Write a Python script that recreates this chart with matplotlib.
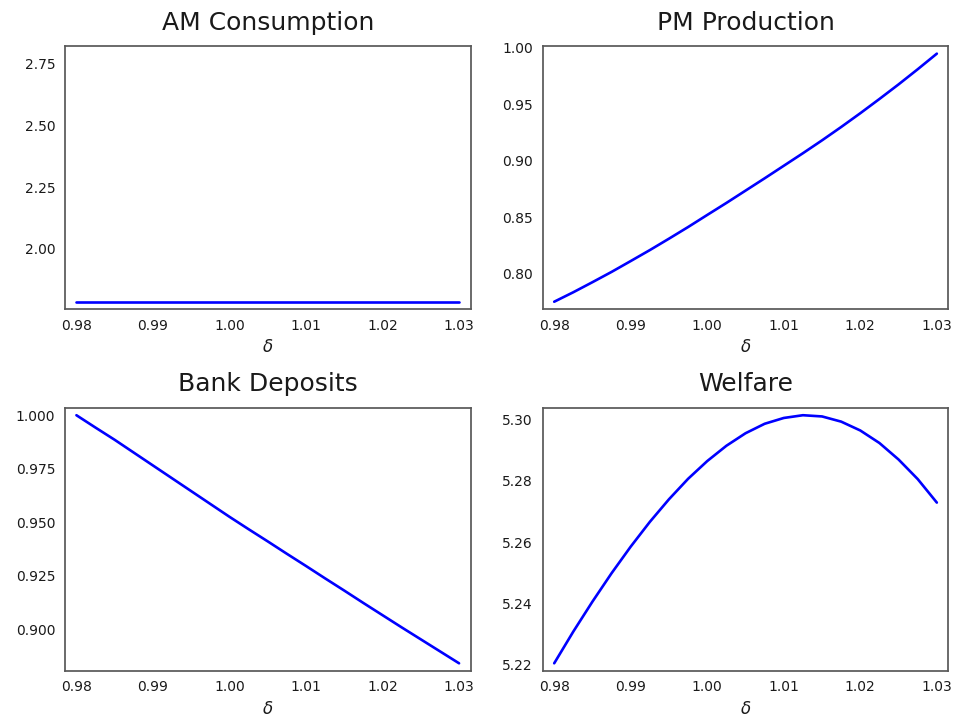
import numpy as np
import matplotlib
matplotlib.use("Agg")
import matplotlib.pyplot as plt
import matplotlib.ticker as mticker
import seaborn as sns

# delta grid and values
delta = [0.9800, 0.9825, 0.9850, 0.9875, 0.9900, 0.9925, 0.9950, 0.9975,
         1.0000, 1.0025, 1.0050, 1.0075, 1.0100, 1.0125, 1.0150, 1.0175,
         1.0200, 1.0225, 1.0250, 1.0275, 1.0300]
am_consumption = [1.786] * len(delta)
pm_production = [0.7752, 0.7836, 0.7925, 0.8016, 0.8112, 0.8209, 0.8310, 0.8413,
                 0.8520, 0.8626, 0.8735, 0.8844, 0.8955, 0.9066, 0.9180, 0.9298,
                 0.9420, 0.9546, 0.9675, 0.9809, 0.9947]
bank_deposits = [1.0000, 0.9942, 0.9885, 0.9825, 0.9765, 0.9705, 0.9645, 0.9585,
                 0.9525, 0.9467, 0.9410, 0.9352, 0.9295, 0.9237, 0.9180, 0.9122,
                 0.9065, 0.9008, 0.8952, 0.8896, 0.8840]
welfare = [5.2203, 5.2307, 5.2405, 5.2498, 5.2585, 5.2666, 5.2740, 5.2807,
           5.2865, 5.2915, 5.2956, 5.2987, 5.3006, 5.3015, 5.3011, 5.2994,
           5.2965, 5.2924, 5.2870, 5.2806, 5.2729]

titles = ["AM Consumption", "PM Production", "Bank Deposits", "Welfare"]
series = [am_consumption, pm_production, bank_deposits, welfare]
x_ticks = [0.98, 0.99, 1.00, 1.01, 1.02, 1.03]

sns.set_style("white")
plt.rcParams["axes.linewidth"] = 1.25
plt.rcParams["axes.edgecolor"] = "0.35"
plt.rcParams["text.color"] = "0.1"
plt.rcParams["axes.labelcolor"] = "0.1"
plt.rcParams["xtick.color"] = "0.1"
plt.rcParams["ytick.color"] = "0.1"

fig, axes = plt.subplots(2, 2, figsize=(9.55, 7.22), dpi=100)
fig.subplots_adjust(left=0.068, right=0.993, top=0.936, bottom=0.071,
                    wspace=0.178, hspace=0.375)

for ax, title, y in zip(axes.flat, titles, series):
    ax.plot(delta, y, color="blue", lw=1.9)
    ax.margins(0.03)
    ax.set_title(title, fontsize=18, pad=12)
    ax.set_xlabel(r"$\delta$", fontsize=12)
    ax.tick_params(labelsize=10)
    ax.set_xticks(x_ticks)

# first panel: flat line sits near the bottom of a fixed range
axes[0, 0].set_ylim(1.756, 2.82)
axes[0, 0].set_yticks([2.00, 2.25, 2.50, 2.75])
axes[1, 0].set_yticks([0.900, 0.925, 0.950, 0.975, 1.000])
axes[1, 0].yaxis.set_major_formatter(mticker.FormatStrFormatter("%.3f"))
axes[1, 1].set_yticks([5.22, 5.24, 5.26, 5.28, 5.30])

fig.savefig("out.png", dpi=100)
